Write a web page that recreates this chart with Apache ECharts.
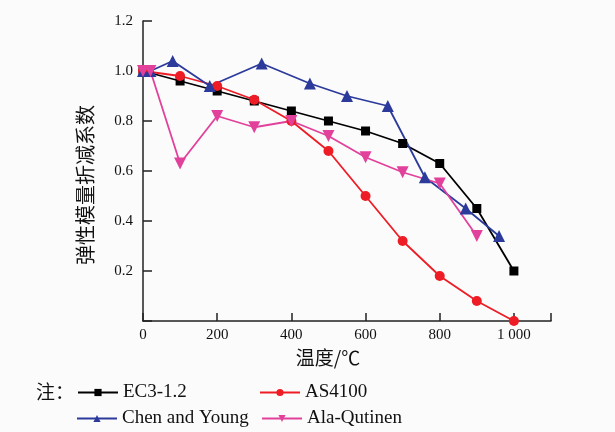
<!DOCTYPE html>
<html>
<head>
<meta charset="utf-8">
<script src="https://cdn.jsdelivr.net/npm/echarts@6/dist/echarts.min.js"></script>
<style>
  html, body { margin: 0; padding: 0; background: #fbfbfb; }
  #chart { width: 615px; height: 432px; }
</style>
</head>
<body>
<div id="chart"></div>
<script>
// temperatures (°C) and elastic modulus reduction factors
const ec3Temps = [0, 100, 200, 300, 400, 500, 600, 700, 800, 900, 1000];
const ec3Vals = [1.0, 0.96, 0.92, 0.88, 0.84, 0.80, 0.76, 0.71, 0.63, 0.45, 0.20];

const asTemps = [0, 100, 200, 300, 400, 500, 600, 700, 800, 900, 1000];
const asVals = [1.0, 0.98, 0.94, 0.885, 0.80, 0.68, 0.50, 0.32, 0.18, 0.08, 0.0];

const chenTemps = [0, 20, 80, 180, 320, 450, 550, 660, 760, 870, 960];
const chenVals = [1.0, 1.0, 1.04, 0.94, 1.03, 0.95, 0.90, 0.86, 0.575, 0.45, 0.34];

const alaTemps = [0, 20, 100, 200, 300, 400, 500, 600, 700, 800, 900];
const alaVals = [1.0, 1.0, 0.63, 0.82, 0.775, 0.80, 0.74, 0.655, 0.595, 0.55, 0.34];

const seriesNames = ['EC3-1.2', 'AS4100', 'Chen and Young', 'Ala-Qutinen'];

const serif = 'Liberation Serif';
const cjk = 'Noto Sans CJK SC';

const chart = echarts.init(document.getElementById('chart'));

function pairs(xs, ys) {
  return xs.map((x, i) => [x, ys[i]]);
}

function lineSeries(name, data, color, symbol, size, rotate) {
  return {
    name: name,
    type: 'line',
    data: data,
    symbol: symbol,
    symbolSize: size,
    symbolRotate: rotate || 0,
    showAllSymbol: true,
    clip: false,
    lineStyle: { color: color, width: 1.8 },
    itemStyle: { color: color },
    emphasis: { disabled: true },
  };
}

function legendAt(name, left, top) {
  return {
    data: [name],
    left: left,
    top: top,
    padding: 0,
    itemWidth: 40,
    itemHeight: 9,
    itemGap: 4,
    textStyle: { fontFamily: serif, fontSize: 19, color: '#111' },
  };
}

const options = {
  backgroundColor: '#fbfbfb',
  animation: false,
  grid: { left: 143, right: 64, top: 21, bottom: 111 },
  xAxis: {
    type: 'value',
    min: 0,
    max: 1100,
    interval: 200,
    name: '温度/℃',
    nameLocation: 'middle',
    nameGap: 24,
    nameTextStyle: { fontFamily: cjk, fontSize: 19, color: '#111', padding: [0, 38, 0, 0] },
    axisLine: { lineStyle: { color: '#222', width: 1.5 } },
    axisTick: { inside: true, length: 8, lineStyle: { color: '#222', width: 1.5 } },
    splitLine: { show: false },
    axisLabel: {
      margin: 7,
      fontFamily: serif,
      fontSize: 15,
      color: '#111',
      formatter: (v) => (v === 1000 ? '1 000' : v > 1000 ? '' : String(v)),
    },
  },
  yAxis: {
    type: 'value',
    min: 0,
    max: 1.2,
    interval: 0.2,
    name: '弹性模量折减系数',
    nameLocation: 'middle',
    nameGap: 48,
    nameTextStyle: { fontFamily: cjk, fontSize: 20, color: '#111', padding: [0, 28, 0, 0] },
    axisLine: { show: true, lineStyle: { color: '#222', width: 1.5 } },
    axisTick: { show: true, inside: true, length: 9, lineStyle: { color: '#222', width: 1.5 } },
    splitLine: { show: false },
    axisLabel: {
      margin: 10,
      fontFamily: serif,
      fontSize: 15,
      color: '#111',
      formatter: (v) => (v === 0 ? '' : v.toFixed(1)),
    },
  },
  legend: [
    legendAt(seriesNames[0], 77, 383),
    legendAt(seriesNames[1], 259, 383),
    legendAt(seriesNames[2], 76, 409),
    legendAt(seriesNames[3], 261, 409),
  ],
  graphic: [
    {
      type: 'text',
      left: 36,
      top: 382,
      style: { text: '注：', fontFamily: cjk, fontSize: 19, fill: '#111' },
    },
  ],
  series: [
    lineSeries(seriesNames[0], pairs(ec3Temps, ec3Vals), '#000000', 'rect', 9),
    lineSeries(seriesNames[1], pairs(asTemps, asVals), '#ee1c25', 'circle', 10),
    lineSeries(seriesNames[2], pairs(chenTemps, chenVals), '#2b3a9b', 'triangle', 12),
    lineSeries(seriesNames[3], pairs(alaTemps, alaVals), '#e2419b', 'triangle', 12, 180),
  ],
};

chart.setOption(options);
</script>
</body>
</html>
